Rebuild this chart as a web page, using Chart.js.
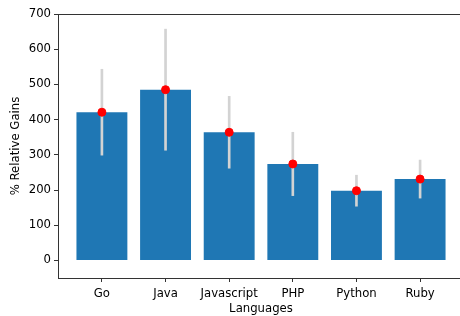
<!DOCTYPE html>
<html>
<head>
<meta charset="utf-8">
<script src="https://cdn.jsdelivr.net/npm/chart.js@4/dist/chart.umd.min.js"></script>
<style>
    html, body { margin: 0; padding: 0; background: #fff; overflow: hidden; }
    canvas { display: block; }
</style>
</head>
<body>
<canvas id="grafico" width="469" height="316"></canvas>
<script>
// Datos
const lenguajes = ["Go", "Java", "Javascript", "PHP", "Python", "Ruby"];
const ganancias = [421, 485, 364, 274, 198, 231];
const errores = [122, 172, 102, 90, 44, 54];
const ticksY = [0, 100, 200, 300, 400, 500, 600, 700];

const fuente = { family: "DejaVu Sans", size: 11.7 };

// borde superior del area (spine de arriba)
const bordeSuperior = {
    id: "bordeSuperior",
    afterDatasetsDraw(chart) {
        const { ctx, chartArea } = chart;
        ctx.save();
        ctx.strokeStyle = "#333";
        ctx.lineWidth = 1;
        ctx.beginPath();
        ctx.moveTo(chartArea.left, chartArea.top + 0.5);
        ctx.lineTo(chartArea.right, chartArea.top + 0.5);
        ctx.stroke();
        ctx.restore();
    }
};

const ctx = document.getElementById("grafico").getContext("2d");
new Chart(ctx, {
    data: {
        datasets: [
            {
                type: "scatter",
                data: ganancias.map((v, i) => ({ x: i, y: v })),
                backgroundColor: "#ff0000",
                borderColor: "#ff0000",
                pointRadius: 4,
                order: 1
            },
            {
                type: "bar",
                data: ganancias.map((v, i) => ({ x: i, y: [v - errores[i], v + errores[i]] })),
                backgroundColor: "#d3d3d3",
                barThickness: 2,
                grouped: false,
                borderSkipped: false,
                order: 2
            },
            {
                type: "bar",
                data: ganancias.map((v, i) => ({ x: i, y: v })),
                backgroundColor: "#1f77b4",
                barPercentage: 0.8,
                categoryPercentage: 1,
                grouped: false,
                order: 3
            }
        ]
    },
    options: {
        responsive: false,
        animation: false,
        layout: { padding: { top: 14, right: 0, left: 9, bottom: 0 } },
        plugins: {
            legend: { display: false },
            tooltip: { enabled: false }
        },
        scales: {
            x: {
                type: "linear",
                min: -0.69,
                max: 5.69,
                offset: false,
                afterBuildTicks: s => { s.ticks = lenguajes.map((_, i) => ({ value: i })); },
                afterFit: s => { s.height = 38; },
                ticks: {
                    callback: v => lenguajes[v],
                    color: "#000",
                    font: fuente,
                    padding: 5,
                    maxRotation: 0,
                    autoSkip: false
                },
                grid: { drawOnChartArea: false, offset: false, tickLength: 4, color: "#333" },
                border: { color: "#333", width: 1 },
                title: { display: true, text: "Languages", color: "#000", font: fuente, padding: { top: 0, bottom: 0 } }
            },
            y: {
                min: -50,
                max: 700,
                afterBuildTicks: s => { s.ticks = ticksY.map(v => ({ value: v })); },
                afterFit: s => { s.width = 49; },
                ticks: { color: "#000", font: fuente, padding: 3 },
                grid: { drawOnChartArea: false, tickLength: 4, color: "#333" },
                border: { color: "#333", width: 1 },
                title: { display: true, text: "% Relative Gains", color: "#000", font: fuente, padding: 0 }
            }
        }
    },
    plugins: [bordeSuperior]
});
</script>
</body>
</html>
